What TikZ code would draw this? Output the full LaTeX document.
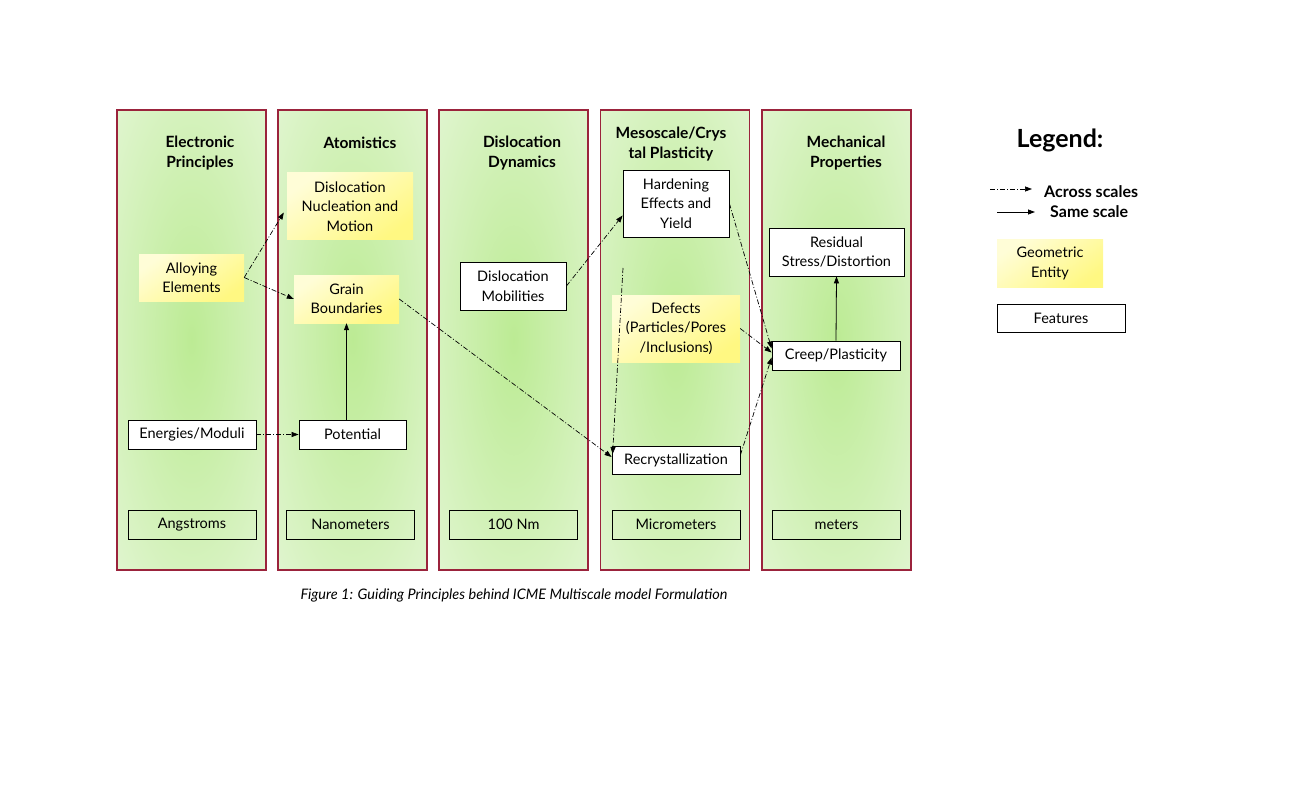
\documentclass[tikz,border=0pt]{standalone}
\usepackage{fontspec}
\setmainfont{Lato}
\usetikzlibrary{arrows.meta}
\definecolor{colin}{RGB}{188,235,148}
\definecolor{colout}{RGB}{238,249,230}
\definecolor{colborder}{RGB}{155,35,60}
\definecolor{yelA}{RGB}{255,253,215}
\definecolor{yelB}{RGB}{255,248,130}
\pgfdeclareradialshading{colgrad}{\pgfpoint{0bp}{0bp}}{color(0bp)=(colin); color(50bp)=(colout); color(75bp)=(colout)}
\newcommand{\nf}{\fontsize{14.5}{19.5}\selectfont}
\newcommand{\tf}{\fontsize{15.5}{20}\selectfont\bfseries}
\tikzset{
  col/.style={draw=colborder, line width=1.6pt, shading=colgrad, minimum width=149pt, minimum height=460pt, inner sep=0pt},
  ttl/.style={align=center, font=\tf, inner sep=0pt},
  feat/.style={draw=black, line width=0.8pt, fill=white, align=center, font=\nf, inner sep=0pt},
  geo/.style={top color=yelA, bottom color=yelB, shading angle=35, align=center, font=\nf, inner sep=0pt},
  scl/.style={draw=black, line width=0.8pt, align=center, font=\nf, inner sep=0pt, minimum width=128pt, minimum height=29pt},
  across/.style={line width=0.7pt, dash pattern=on 5pt off 2pt on 1pt off 2pt, -{Triangle[length=7pt,width=5pt]}},
  same/.style={line width=0.8pt, -{Triangle[length=7pt,width=5pt]}},
}
\begin{document}
\begin{tikzpicture}[x=1pt,y=-1pt]
\useasboundingbox (0,0) rectangle (1313,786);
% columns
\node[col] (c1) at (191.5,340) {};
\node[col] (c2) at (352.5,340) {};
\node[col] (c3) at (513.5,340) {};
\node[col] (c4) at (675,340) {};
\node[col] (c5) at (836.5,340) {};
% titles
\node[ttl] (t1) at (200,153) {Electronic\\Principles};
\node[ttl] (t2) at (360,143) {Atomistics};
\node[ttl] (t3) at (522,153) {Dislocation\\Dynamics};
\node[ttl] (t4) at (671,144) {Mesoscale/Crys\\tal Plasticity};
\node[ttl] (t5) at (846,153) {Mechanical\\Properties};
% scale boxes
\node[scl] (s1) at (192,524.5) {Angstroms};
\node[scl] (s2) at (350.5,524.5) {Nanometers};
\node[scl] (s3) at (513.5,524.5) {100 Nm};
\node[scl] (s4) at (676,524.5) {Micrometers};
\node[scl] (s5) at (836.5,524.5) {meters};
% entities
\node[geo, minimum width=105pt, minimum height=47pt] (alloy) at (191.5,277.5) {Alloying\\Elements};
\node[geo, minimum width=126pt, minimum height=67pt] (nuc) at (350,206.5) {Dislocation\\Nucleation and\\Motion};
\node[geo, minimum width=105pt, minimum height=48pt] (gb) at (346.5,299) {Grain\\Boundaries};
\node[feat, minimum width=128pt, minimum height=29pt] (ener) at (192,434.5) {Energies/Moduli};
\node[feat, minimum width=107pt, minimum height=29pt] (pot) at (352.5,434.5) {Potential};
\node[feat, minimum width=106pt, minimum height=48pt] (mob) at (513,286) {Dislocation\\Mobilities};
\node[feat, minimum width=106pt, minimum height=67pt] (hard) at (676,203.5) {Hardening\\Effects and\\Yield};
\node[geo, minimum width=128pt, minimum height=67pt] (def) at (676,328.5) {Defects\\(Particles/Pores\\/Inclusions)};
\node[feat, minimum width=128pt, minimum height=28pt] (rec) at (676,460) {Recrystallization};
\node[feat, minimum width=135pt, minimum height=48pt] (res) at (836.5,252) {Residual\\Stress/Distortion};
\node[feat, minimum width=128pt, minimum height=29pt] (creep) at (836,355.5) {Creep/Plasticity};
% connectors
\draw[across] (alloy.east) -- ([yshift=-6pt,xshift=-3pt]nuc.west);
\draw[across] (alloy.east) -- (gb.west);
\draw[across] (ener.east) -- (pot.west);
\draw[same] (gb.south |- pot.north) -- (gb.south);
\draw[across] (gb.east) -- ([yshift=3pt]rec.west);
\draw[across] (mob.east) -- ([yshift=-12pt]hard.west);
\coordinate (free) at (623,268);
\draw[across] (free) -- ([yshift=6pt,xshift=1pt]rec.west);
\draw[across] (hard.east) -- ([yshift=7pt]creep.west);
\draw[across] (def.east) -- ([yshift=3pt]creep.west);
\draw[across] ([yshift=5pt]rec.east) -- ([yshift=-2pt]creep.west);
\draw[same] (creep.north) -- (res.south);
% legend
\node[font=\fontsize{25}{28}\selectfont\bfseries, inner sep=0pt] (leg) at (1060,140) {Legend:};
\coordinate (la1) at (990,189);
\coordinate (la2) at (1032,189);
\draw[across] (la1) -- (la2);
\node[font=\fontsize{16}{18}\selectfont\bfseries, anchor=west, inner sep=0pt] (lat) at (1044,192) {Across scales};
\coordinate (ls1) at (997,212);
\coordinate (ls2) at (1035,212);
\draw[same] (ls1) -- (ls2);
\node[font=\fontsize{16}{18}\selectfont\bfseries, anchor=west, inner sep=0pt] (lst) at (1050,212) {Same scale};
\node[geo, minimum width=106pt, minimum height=47pt] (lgeo) at (1050,263.5) {Geometric\\Entity};
\node[feat, minimum width=128pt, minimum height=28pt] (lfeat) at (1061,318) {Features};
% caption
\node[font=\fontsize{14.5}{17}\selectfont\itshape, inner sep=0pt] (cap) at (514,595) {Figure 1: Guiding Principles behind ICME Multiscale model Formulation};
\end{tikzpicture}
\end{document}
